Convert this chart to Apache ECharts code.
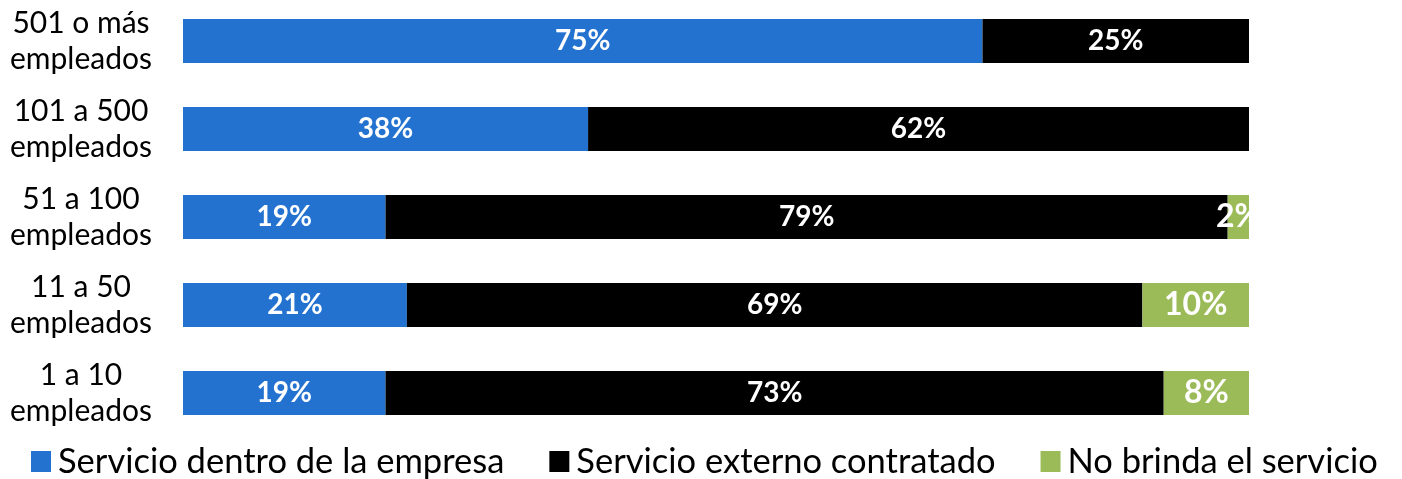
<!DOCTYPE html>
<html>
<head>
<meta charset="utf-8">
<script src="https://cdn.jsdelivr.net/npm/echarts@6/dist/echarts.min.js"></script>
<style>
html,body{margin:0;padding:0;background:#fff;}
#chart{width:1402px;height:479px;}
</style>
</head>
<body>
<div id="chart"></div>
<script>
const categories = ['501 o más\nempleados', '101 a 500\nempleados', '51 a 100\nempleados', '11 a 50\nempleados', '1 a 10\nempleados'];
const seriesNames = ['Servicio dentro de la empresa', 'Servicio externo contratado', 'No brinda el servicio'];
const dentro = [75, 38, 19, 21, 19];
const externo = [25, 62, 79, 69, 73];
const noBrinda = [0, 0, 2, 10, 8];
const colors = ['#2372D0', '#000000', '#9BBB59'];

const FONT = 'Lato';
function mk(name, data, color, fs) {
  return {
    name: name, type: 'bar', stack: 'total', data: data, barWidth: 44,
    itemStyle: { color: color },
    label: {
      show: true, position: 'inside', color: '#fff', fontFamily: FONT, fontWeight: 'bold', fontSize: fs,
      formatter: p => p.value > 0 ? p.value + '%' : ''
    }
  };
}
const chart = echarts.init(document.getElementById('chart'), null, { renderer: 'canvas' });
chart.setOption({
  animation: false,
  grid: { left: 183, right: 153, top: 41, height: 352, containLabel: false },
  xAxis: { type: 'value', min: 0, max: 100, show: false },
  yAxis: {
    type: 'category', data: categories, inverse: true, boundaryGap: false,
    axisLine: { show: false }, axisTick: { show: false },
    axisLabel: { align: 'center', margin: 102, fontFamily: FONT, fontSize: 30, color: '#000', lineHeight: 36 }
  },
  legend: {
    top: 444, left: 31, width: 1371, icon: 'rect', itemWidth: 20, itemHeight: 21, itemGap: 45, padding: 0,
    textStyle: { fontFamily: FONT, fontSize: 34.5, color: '#000', padding: [0, 0, 0, 2] },
    data: seriesNames
  },
  series: [
    mk(seriesNames[0], dentro, colors[0], 28),
    mk(seriesNames[1], externo, colors[1], 28),
    mk(seriesNames[2], noBrinda, colors[2], 32)
  ]
});
</script>
</body>
</html>
